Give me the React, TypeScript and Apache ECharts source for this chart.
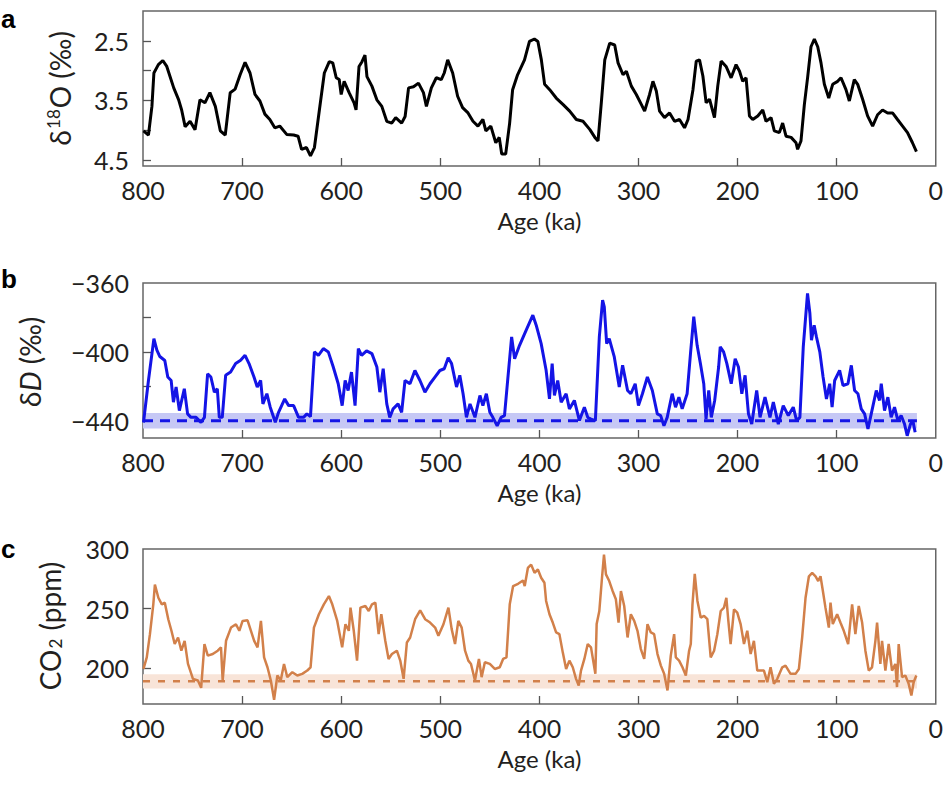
import React, { useEffect, useRef } from "react";
import * as echarts from "echarts";

// ---------- axes ----------
const ageLabels = [0, 100, 200, 300, 400, 500, 600, 700, 800];
const ageTicks = [100, 200, 300, 400, 500, 600, 700];

const d18oLabelValues = [2.5, 3.5, 4.5];
const d18oTickValues = [2.5, 3.0, 3.5, 4.0, 4.5];
const dDLabelValues = [-360, -400, -440];
const dDTickValues = [-380, -400, -420, -440];
const co2LabelValues = [200, 250, 300];
const co2TickValues = [200, 250];

// ---------- panel a: benthic d18O ----------
const d18oAge = [
  799.5, 794.5, 791, 789, 784.5, 780, 776, 769, 764, 761,
  757.5, 752.5, 747.5, 742.5, 737.5, 732.5, 727, 722, 717, 712,
  707, 702, 697, 692, 687, 682, 677, 672, 667, 662,
  655, 648, 643.5, 640, 635, 631, 627, 622, 617, 612,
  608.5, 605, 602, 600, 597, 592, 587, 585, 582, 579,
  576, 574, 569, 564, 559, 554, 549, 545, 539, 535.5,
  532, 527, 522, 517, 514, 509, 504, 499, 496, 492.5,
  487.5, 482.5, 477.5, 472, 467, 462, 457, 454, 449, 444,
  440.5, 438, 434, 430, 427, 422, 415, 410, 405, 401.5,
  398, 394.7, 389.6, 383, 376, 369.4, 362.7, 356, 349, 344,
  340.8, 337.5, 334, 329, 324, 320.6, 315.6, 312.2, 307.2, 302.2,
  297, 293.8, 288.8, 285.4, 282, 278.7, 273.7, 268.6, 263.6, 258.6,
  253.5, 250, 245, 241.7, 238.4, 235, 231.7, 228.3, 223.3, 220,
  216.6, 211.6, 206.5, 201.5, 198, 194.8, 191.4, 188, 184.7, 179.6,
  174.6, 171.3, 166.2, 162.9, 157.8, 154.5, 151.1, 146, 141, 139.4,
  136, 132.6, 129.2, 125.9, 122.5, 119.1, 115.8, 112.4, 108, 104,
  99, 95.6, 90.6, 87.2, 82.2, 78.8, 73.8, 68.8, 63.7, 58.7,
  53.7, 48.6, 43.6, 38.6, 33.5, 28.5, 23.5, 19.5,
];
const d18oVal = [
  4.01, 4.08, 3.6, 3.04, 2.9, 2.83, 2.93, 3.29, 3.49, 3.66,
  3.94, 3.85, 3.99, 3.49, 3.54, 3.37, 3.6, 4.01, 4.08, 3.37,
  3.31, 3.07, 2.86, 3.04, 3.4, 3.51, 3.73, 3.82, 3.96, 3.93,
  4.07, 4.08, 4.1, 4.32, 4.29, 4.43, 4.29, 3.66, 3.04, 2.85,
  2.87, 3.12, 3.15, 3.4, 3.18, 3.37, 3.54, 3.66, 2.93, 2.85,
  2.74, 3.1, 3.26, 3.49, 3.6, 3.85, 3.88, 3.79, 3.88, 3.77,
  3.29, 3.27, 3.21, 3.37, 3.6, 3.29, 3.12, 3.15, 3.04, 2.82,
  3.04, 3.43, 3.62, 3.71, 3.85, 3.93, 3.82, 4.01, 3.93, 4.21,
  4.12, 4.4, 4.4, 3.88, 3.32, 3.07, 2.82, 2.51, 2.47, 2.51,
  2.82, 3.23, 3.32, 3.46, 3.57, 3.68, 3.82, 3.85, 3.99, 4.12,
  4.18, 3.54, 2.82, 2.54, 2.57, 2.87, 3.07, 3.01, 3.26, 3.4,
  3.57, 3.68, 3.4, 3.18, 3.34, 3.68, 3.79, 3.71, 3.85, 3.82,
  3.96, 3.82, 3.32, 2.84, 2.82, 3.09, 3.54, 3.48, 3.79, 3.26,
  2.84, 2.93, 3.12, 2.9, 3.01, 3.18, 3.12, 3.76, 3.82, 3.76,
  3.66, 3.85, 3.79, 4.01, 4.04, 3.88, 4.1, 4.12, 4.21, 4.32,
  4.18, 3.57, 3.1, 2.6, 2.47, 2.6, 2.87, 3.23, 3.46, 3.23,
  3.18, 3.12, 3.32, 3.51, 3.15, 3.23, 3.48, 3.76, 3.93, 3.74,
  3.66, 3.71, 3.71, 3.82, 3.93, 4.04, 4.21, 4.36,
];

// ---------- panel b: deuterium ----------
const dDAge = [
  799.5, 794.5, 789, 786, 783, 778, 775, 771.6, 769.3, 766.6,
  763.3, 758.3, 755, 751.6, 746.5, 741.5, 738, 734.8, 731.5, 728,
  725, 723, 720, 716.6, 711.6, 706.5, 701.5, 697, 693, 688,
  684.7, 681.3, 679, 675, 671.6, 666.5, 663.2, 657, 653, 648,
  643, 638, 634.6, 631, 627, 623, 618, 613, 608, 603,
  599, 596, 593, 589.6, 586, 582.7, 579.4, 574.4, 569, 564,
  561, 557.6, 554, 551, 547.6, 542.6, 539, 535.6, 530.6, 525.6,
  520.5, 515.5, 510.4, 505.4, 500.4, 496, 492, 488.6, 483.6, 480.3,
  477, 473.6, 470, 465, 460, 457, 453.5, 450, 447, 442.6,
  438.6, 435.2, 432, 428, 425, 420, 413.3, 406.6, 403.2, 398.2,
  393.2, 389.8, 387.1, 384.8, 381.5, 378, 373, 369.7, 364.7, 359.6,
  354.6, 351.2, 347.9, 343.5, 339.5, 336.2, 334.5, 332.1, 329.5, 324.4,
  319.4, 316, 311, 307.7, 303.3, 300, 296, 291, 286, 281,
  277.6, 274.3, 271, 266, 262.6, 259.2, 255.9, 250.9, 247.5, 244.2,
  240.8, 237.5, 234.1, 231.8, 229.1, 226.5, 223.1, 219.1, 217.5, 214.1,
  210.8, 206.4, 202.4, 199.1, 195.7, 192.4, 189, 185.7, 180.7, 177.3,
  172.3, 167.3, 163.9, 158.9, 153.9, 148.8, 143.8, 140.4, 137.1, 133.7,
  129.4, 127, 125.4, 122.7, 120.4, 117, 113.7, 110.3, 107, 104.6,
  102, 97, 93.6, 88.6, 85.2, 81.9, 78.5, 75.2, 71.8, 68.4,
  65.1, 60, 56.7, 55, 51.7, 48.3, 45, 41.6, 38.2, 34.9,
  31.5, 28.8, 25.5, 23.1, 20.8,
];
const dDVal = [
  -441, -416.6, -392.3, -399, -402.7, -405, -414.6, -416.6, -429.2, -420.4,
  -434.1, -421.4, -436, -438, -438, -440.9, -438, -412.7, -414.6, -423.4,
  -421.4, -438, -438, -413.6, -411.7, -406.8, -404.9, -402, -406.8, -414.6,
  -420.4, -416.6, -430.2, -424.3, -432.1, -440.9, -435.1, -427.3, -431.2, -431.2,
  -438, -438, -436, -437.6, -400, -402, -398.1, -400, -408.8, -418.5,
  -431.2, -416.6, -422.4, -411.7, -431.2, -398.1, -402, -399.4, -401, -408.8,
  -423.4, -409.7, -430.2, -438, -433.1, -430.2, -435.1, -416.6, -418.5, -410.8,
  -416.6, -423.4, -418.5, -414.6, -410.8, -409.8, -403.4, -406.8, -420.4, -413.6,
  -424.3, -438, -430.2, -438, -425.3, -431.2, -424.3, -435.1, -438, -442.9,
  -438, -437, -416.6, -391.3, -404, -396.2, -387.4, -378.7, -384.5, -395.2,
  -410.7, -427.3, -406.8, -425.3, -416.6, -429.2, -424.3, -433.1, -428.2, -439.9,
  -432.1, -438, -439, -439.9, -391.3, -369.9, -373.8, -395.2, -392.3, -402.9,
  -420.4, -407.8, -422.4, -424.3, -418.5, -431.2, -424.3, -414.6, -422.4, -436,
  -437, -442.9, -438, -424.3, -432.1, -426.3, -433.1, -424.3, -401, -379.6,
  -396.2, -406.8, -418.5, -439, -422.4, -438, -428.2, -408.8, -397.1, -400,
  -406.8, -418.5, -404, -408.8, -424.3, -413.6, -436, -441.9, -422.4, -438,
  -426.3, -438, -429.2, -441.9, -431.2, -437, -432.1, -439.9, -438, -397.1,
  -366, -377.7, -393.2, -384.5, -391.3, -400, -414.6, -427.3, -418.5, -432.1,
  -416.6, -410.7, -419.5, -418.5, -407.8, -422.4, -424.3, -433.1, -436, -444.7,
  -436, -422.4, -428.2, -418.5, -434.1, -426.3, -438, -432.1, -439.9, -437,
  -441.9, -448.7, -441.9, -439.9, -446.7,
];
const dDBaseline = -440;
const dDBand = [-444.5, -435.5];

// ---------- panel c: CO2 ----------
const co2Age = [
  799.5, 796.2, 793, 789.6, 788, 784.5, 781, 778, 774.5, 771.3,
  768, 764.6, 761.3, 758, 754.6, 749.6, 744.6, 741.3, 738, 734.6,
  729.6, 724.6, 721.3, 719.6, 716.2, 711.2, 706.2, 702.8, 699.5, 694.5,
  687.8, 684.4, 681, 677.8, 674.4, 671, 667.7, 664.4, 661, 657.7,
  654.4, 649.3, 644.3, 639.3, 634.2, 630.9, 627.5, 622.5, 617.5, 612.4,
  609, 604, 599, 595.7, 592.3, 590.6, 587.3, 584, 580.6, 575.6,
  572.2, 568.9, 565.5, 562.2, 559.5, 555.5, 552.2, 548.8, 543.8, 540.4,
  537, 533.7, 530.4, 525.4, 520.3, 515.3, 510.3, 505.2, 501.9, 496.8,
  491.8, 488.5, 485.1, 481.8, 478.4, 475, 471.7, 469, 465, 461,
  458.3, 455, 450, 445, 440, 436.6, 433.2, 429.9, 426.5, 421.5,
  416.5, 414.8, 411.6, 408.3, 404.9, 401.5, 398.2, 394.9, 393.2, 389.8,
  386.5, 383.1, 379.8, 376.4, 373, 369.7, 366.3, 363, 360.3, 358,
  354.6, 351.2, 347.9, 343.5, 342.2, 339.5, 336.8, 334.8, 332.8, 329.5,
  326.1, 322.8, 320.1, 317.7, 314.4, 311, 307.7, 304.3, 301, 297.6,
  294.2, 290.9, 287.5, 284.2, 280.8, 277.4, 274.1, 270.7, 267.4, 264,
  262.3, 259, 255.6, 252.2, 248.9, 247.2, 245.5, 243.2, 240.5, 237.2,
  233.8, 230.5, 227.1, 223.7, 220.4, 217, 213.7, 211.3, 209.3, 207,
  203.6, 200.3, 196.9, 193.5, 190.2, 186.8, 183.5, 180.1, 176.7, 173.4,
  170, 166.7, 163.3, 159.9, 154.9, 151.6, 146.5, 141.5, 138.1, 134.8,
  131.4, 128, 124.7, 121.3, 118.6, 116.3, 113.9, 111.3, 107.9, 106.2,
  103.9, 99.5, 96.2, 92.8, 88.4, 84.4, 81.1, 77.7, 74.3, 71,
  67.6, 64.3, 60.9, 59.2, 55.9, 54.2, 50.8, 47.5, 44.1, 40.8,
  39.1, 37.4, 34, 30.7, 27.3, 24.6, 22.3, 19.6,
];
const co2Val = [
  199.4, 209.1, 228.6, 253.6, 270.2, 259.1, 253.6, 255, 241.1, 231.4,
  220.3, 225.8, 214.7, 223, 203.6, 191.1, 189.7, 183.6, 220.3, 210.6,
  211.9, 214.7, 217.5, 189.7, 223, 234.1, 236.9, 231.4, 239.7, 240.2,
  223, 217.5, 239.7, 209.1, 200.8, 189.7, 173.6, 193.9, 189.7, 203.6,
  192.5, 196.7, 193.9, 195.3, 198.1, 200.8, 234.1, 245.3, 253.6, 260.5,
  253.6, 239.7, 217.5, 236.9, 231.4, 250.8, 231.4, 206.4, 250.8, 252.2,
  248, 253.6, 255, 228.6, 245.3, 223, 207.8, 211.9, 214.7, 206.4,
  191.1, 221.6, 225.8, 241.1, 248.6, 241.1, 238.3, 234.1, 227.2, 236.9,
  250.8, 232.8, 220.3, 239.7, 234.1, 214.7, 206.4, 203.6, 189.7, 207.8,
  192.5, 205, 203.6, 199.4, 200.8, 207.8, 209.1, 253.6, 268.9, 270.8,
  273.6, 268.9, 284.1, 286.9, 280, 282.8, 275.9, 271.7, 256.4, 245.3,
  238.3, 230, 228.6, 213.3, 199.4, 206.4, 200.8, 191.1, 185.5, 198,
  207.8, 220.3, 217.5, 195.3, 237, 248, 275.9, 295.3, 278.7, 273.1,
  264.8, 257.8, 238.3, 264.8, 252.2, 225.8, 245.3, 239.7, 231.4, 216.1,
  207.8, 237, 230, 228.6, 211.9, 202.2, 195.3, 181.4, 210.6, 228.6,
  209.1, 206.4, 200.8, 193.9, 214.7, 220.3, 253.6, 279.2, 256.4, 242.5,
  243.9, 241.1, 209.1, 214.7, 228.6, 248, 250.8, 259.1, 239.7, 220.3,
  249.4, 246.6, 237, 220.3, 231.4, 211.9, 223, 198, 198, 198,
  188.3, 200.8, 186.9, 191.1, 200.8, 202.2, 195.3, 195.3, 199.4, 225.8,
  259.1, 277.1, 279.9, 277.1, 273.1, 277.1, 264.8, 250.8, 234.1, 255,
  237, 245.3, 238.3, 231.4, 220.3, 253.6, 228.6, 252.2, 238.3, 214.7,
  198, 200.8, 223, 238.3, 203.6, 223, 198, 220.3, 198, 203.6,
  184.2, 220.3, 192.5, 193.9, 186.9, 177.2, 188.3, 193.9,
];
const co2Baseline = 189;
const co2Band = [183, 195];
const baselineSpan = [800, 19];

const FONT = "Lato, 'Noto Sans', sans-serif";
const GREEK = "'Noto Sans', 'Open Sans', sans-serif";
const TEXT = "#231f20";
const GRID_LEFT = 143;
const GRID_W = 794;
const GRID_H = 155;
const GRID_TOPS = [11, 283, 549];

const zip = (xs: number[], ys: number[]) => xs.map((x, i) => [x, ys[i]]);
const minus = (v: number) => (v < 0 ? "\u2212" + Math.abs(v) : String(v));

function xAxisFor(i: number) {
  return {
    type: "value",
    gridIndex: i,
    position: "bottom",
    min: 0,
    max: 800,
    inverse: true,
    axisLine: { show: false, onZero: false },
    splitLine: { show: false },
    axisTick: {
      show: true,
      inside: true,
      length: 8,
      customValues: ageTicks,
      lineStyle: { color: "#555", width: 1.3 },
    },
    axisLabel: {
      customValues: ageLabels,
      margin: 11,
      fontSize: 25,
      fontFamily: FONT,
      color: TEXT,
    },
    name: "Age (ka)",
    nameLocation: "middle",
    nameGap: 42,
    nameTextStyle: { fontSize: 24, fontFamily: FONT, color: TEXT },
  };
}

function yAxisFor(
  i: number,
  min: number,
  max: number,
  labels: number[],
  ticks: number[],
  fmt: (v: number) => string,
  inverse = false
) {
  return {
    type: "value",
    gridIndex: i,
    position: "left",
    min,
    max,
    inverse,
    axisLine: { show: false, onZero: false },
    splitLine: { show: false },
    axisTick: {
      show: true,
      inside: true,
      length: 8,
      customValues: ticks,
      lineStyle: { color: "#555", width: 1.3 },
    },
    axisLabel: {
      customValues: labels,
      formatter: fmt,
      margin: 14,
      fontSize: 25,
      fontFamily: FONT,
      color: TEXT,
    },
  };
}

const letterStyle = (t: string) => ({
  text: t,
  fontSize: 26,
  fontWeight: "bold",
  fontFamily: "'Liberation Sans', Arial, sans-serif",
  fill: "#000",
  verticalAlign: "middle",
});

export default function App() {
  const ref = useRef<HTMLDivElement>(null);
  useEffect(() => {
    document.body.style.margin = "0";
    const chart = echarts.init(ref.current!, null, { renderer: "svg" });
    const blue = "#1414e6";
    const orange = "#d2804a";
    const option: any = {
      animation: false,
      backgroundColor: "#fff",
      grid: GRID_TOPS.map((top) => ({
        left: GRID_LEFT,
        top,
        width: GRID_W,
        height: GRID_H,
        show: true,
        borderColor: "#666",
        borderWidth: 1.5,
        backgroundColor: "transparent",
      })),
      xAxis: [xAxisFor(0), xAxisFor(1), xAxisFor(2)],
      yAxis: [
        yAxisFor(0, 2.0, 4.6, d18oLabelValues, d18oTickValues, (v) => v.toFixed(1), true),
        yAxisFor(1, -450, -360, dDLabelValues, dDTickValues, minus),
        yAxisFor(2, 170, 300, co2LabelValues, co2TickValues, (v) => String(v)),
      ],
      series: [
        {
          type: "line",
          name: "d18O",
          xAxisIndex: 0,
          yAxisIndex: 0,
          data: zip(d18oAge, d18oVal),
          showSymbol: false,
          lineStyle: { color: "#000", width: 3 },
          z: 3,
        },
        {
          type: "line",
          name: "dD band",
          xAxisIndex: 1,
          yAxisIndex: 1,
          data: [],
          markArea: {
            silent: true,
            itemStyle: { color: "#c6c8f5" },
            data: [
              [
                { xAxis: baselineSpan[0], yAxis: dDBand[0] },
                { xAxis: baselineSpan[1], yAxis: dDBand[1] },
              ],
            ],
          },
          z: 1,
        },
        {
          type: "line",
          name: "dD baseline",
          xAxisIndex: 1,
          yAxisIndex: 1,
          data: baselineSpan.map((a) => [a, dDBaseline]),
          showSymbol: false,
          lineStyle: { color: blue, width: 3, type: [10, 7] },
          z: 2,
        },
        {
          type: "line",
          name: "dD",
          xAxisIndex: 1,
          yAxisIndex: 1,
          data: zip(dDAge, dDVal),
          showSymbol: false,
          lineStyle: { color: blue, width: 3 },
          z: 3,
        },
        {
          type: "line",
          name: "CO2 band",
          xAxisIndex: 2,
          yAxisIndex: 2,
          data: [],
          markArea: {
            silent: true,
            itemStyle: { color: "#f8e4d8" },
            data: [
              [
                { xAxis: baselineSpan[0], yAxis: co2Band[0] },
                { xAxis: baselineSpan[1], yAxis: co2Band[1] },
              ],
            ],
          },
          z: 1,
        },
        {
          type: "line",
          name: "CO2 baseline",
          xAxisIndex: 2,
          yAxisIndex: 2,
          data: baselineSpan.map((a) => [a, co2Baseline]),
          showSymbol: false,
          lineStyle: { color: orange, width: 2.5, type: [7, 8] },
          z: 2,
        },
        {
          type: "line",
          name: "CO2",
          xAxisIndex: 2,
          yAxisIndex: 2,
          data: zip(co2Age, co2Val),
          showSymbol: false,
          lineStyle: { color: orange, width: 2.5 },
          z: 3,
        },
      ],
      graphic: [
        { type: "text", x: 1, y: 19, style: letterStyle("a") },
        { type: "text", x: 1, y: 279, style: letterStyle("b") },
        { type: "text", x: 1, y: 549, style: letterStyle("c") },
        {
          type: "text",
          x: 60,
          y: 88.5,
          rotation: Math.PI / 2,
          style: {
            text: "{g|δ}{s|18}{n|O (‰)}",
            align: "center",
            verticalAlign: "middle",
            fill: TEXT,
            rich: {
              g: { fontSize: 27, fontFamily: GREEK, fill: TEXT, lineHeight: 32 },
              n: { fontSize: 28, fontFamily: FONT, fill: TEXT, lineHeight: 32 },
              s: { fontSize: 17, fontFamily: FONT, fill: TEXT, lineHeight: 32, padding: [0, 1, 13, 1] },
            },
          },
        },
        {
          type: "text",
          x: 30,
          y: 362,
          rotation: Math.PI / 2,
          style: {
            text: "{g|δ}{i|D}{n| (‰)}",
            align: "center",
            verticalAlign: "middle",
            fill: TEXT,
            rich: {
              g: { fontSize: 27, fontFamily: GREEK, fill: TEXT, lineHeight: 32 },
              n: { fontSize: 28, fontFamily: FONT, fill: TEXT, lineHeight: 32 },
              i: { fontSize: 28, fontFamily: FONT, fontStyle: "italic", fill: TEXT, lineHeight: 32 },
            },
          },
        },
        {
          type: "text",
          x: 50,
          y: 626,
          rotation: Math.PI / 2,
          style: {
            text: "{n|CO}{b|2}{n| (ppm)}",
            align: "center",
            verticalAlign: "middle",
            fill: TEXT,
            rich: {
              n: { fontSize: 28, fontFamily: FONT, fill: TEXT, lineHeight: 32 },
              b: { fontSize: 17, fontFamily: FONT, fill: TEXT, lineHeight: 32, padding: [11, 1, 0, 1] },
            },
          },
        },
      ],
    };
    chart.setOption(option);
    return () => chart.dispose();
  }, []);
  return <div ref={ref} style={{ width: 946, height: 793 }} />;
}
